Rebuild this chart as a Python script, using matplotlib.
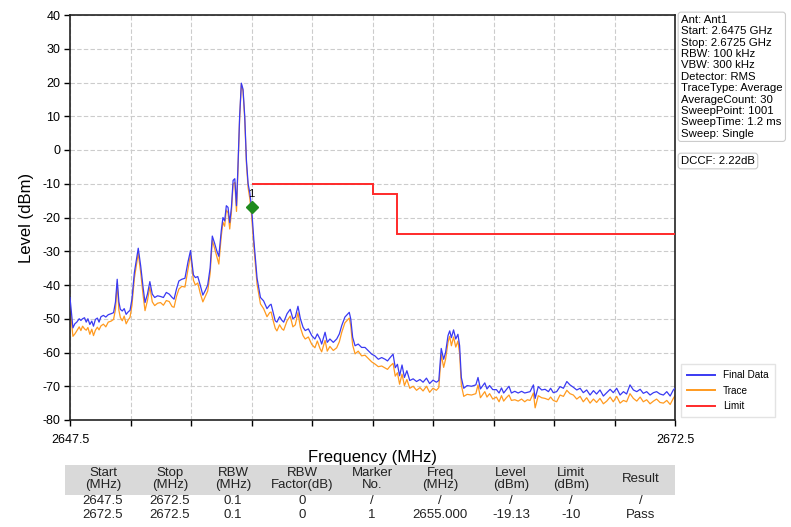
import matplotlib
matplotlib.use("Agg")
import matplotlib.pyplot as plt
from matplotlib.patches import Rectangle

plt.rcParams['font.family'] = ['Liberation Sans', 'DejaVu Sans']
plt.rcParams['axes.unicode_minus'] = False

# ---- data ----
freq_mhz = [
    2647.50, 2647.55, 2647.62, 2647.70, 2647.78, 2647.88, 2647.95, 2648.02, 2648.10, 2648.17,
    2648.24, 2648.32, 2648.40, 2648.47, 2648.55, 2648.63, 2648.70, 2648.78, 2648.88, 2648.98,
    2649.08, 2649.20, 2649.30, 2649.38, 2649.45, 2649.52, 2649.58, 2649.66, 2649.74, 2649.82,
    2649.90, 2649.98, 2650.06, 2650.16, 2650.32, 2650.42, 2650.52, 2650.60, 2650.70, 2650.80,
    2650.90, 2651.00, 2651.12, 2651.24, 2651.36, 2651.48, 2651.60, 2651.72, 2651.80, 2651.90,
    2652.00, 2652.12, 2652.25, 2652.38, 2652.48, 2652.60, 2652.68, 2652.78, 2652.88, 2652.99,
    2653.10, 2653.19, 2653.29, 2653.38, 2653.47, 2653.57, 2653.65, 2653.75, 2653.82, 2653.89,
    2653.96, 2654.03, 2654.10, 2654.17, 2654.24, 2654.31, 2654.38, 2654.44, 2654.51, 2654.58,
    2654.65, 2654.72, 2654.79, 2654.86, 2654.93, 2655.00, 2655.10, 2655.23, 2655.37, 2655.50,
    2655.64, 2655.75, 2655.81, 2655.89, 2655.98, 2656.05, 2656.16, 2656.26, 2656.33, 2656.47,
    2656.60, 2656.71, 2656.81, 2656.92, 2657.02, 2657.13, 2657.22, 2657.35, 2657.49, 2657.62,
    2657.72, 2657.83, 2657.90, 2658.04, 2658.13, 2658.24, 2658.38, 2658.52, 2658.63, 2658.73,
    2658.86, 2659.04, 2659.10, 2659.18, 2659.28, 2659.41, 2659.55, 2659.69, 2659.83, 2659.97,
    2660.10, 2660.24, 2660.38, 2660.52, 2660.62, 2660.73, 2660.85, 2660.94, 2661.03, 2661.12,
    2661.22, 2661.32, 2661.42, 2661.54, 2661.68, 2661.82, 2661.96, 2662.09, 2662.23, 2662.36,
    2662.50, 2662.64, 2662.74, 2662.84, 2662.94, 2663.02, 2663.12, 2663.19, 2663.26, 2663.35,
    2663.44, 2663.53, 2663.60, 2663.67, 2663.77, 2663.91, 2664.09, 2664.27, 2664.36, 2664.46,
    2664.64, 2664.73, 2664.84, 2664.97, 2665.12, 2665.23, 2665.33, 2665.42, 2665.53, 2665.64,
    2665.74, 2665.88, 2666.02, 2666.16, 2666.29, 2666.40, 2666.51, 2666.65, 2666.72, 2666.85,
    2666.99, 2667.13, 2667.27, 2667.36, 2667.47, 2667.61, 2667.75, 2667.89, 2668.03, 2668.16,
    2668.30, 2668.44, 2668.58, 2668.71, 2668.85, 2668.99, 2669.13, 2669.26, 2669.40, 2669.54,
    2669.68, 2669.82, 2669.95, 2670.09, 2670.23, 2670.37, 2670.50, 2670.64, 2670.78, 2670.92,
    2671.06, 2671.19, 2671.33, 2671.47, 2671.61, 2671.74, 2671.88, 2672.02, 2672.16, 2672.30,
    2672.43, 2672.50,
]

final_data_dbm = [
    -43.7, -47.5, -52.7, -51.5, -51.0, -50.0, -50.5, -50.0, -49.7, -51.0,
    -50.0, -51.7, -50.7, -52.2, -50.2, -49.8, -51.0, -49.4, -49.0, -49.5,
    -48.8, -48.5, -48.2, -45.0, -38.3, -45.0, -47.2, -47.7, -47.0, -48.7,
    -48.0, -47.5, -44.2, -36.3, -29.1, -34.3, -40.7, -45.2, -42.7, -39.0,
    -42.7, -43.7, -43.2, -43.4, -43.7, -42.2, -42.7, -43.7, -44.2, -41.2,
    -38.8, -38.3, -38.0, -33.0, -29.8, -37.0, -37.8, -37.5, -40.0, -43.0,
    -41.5, -40.0, -35.0, -25.5, -27.5, -30.0, -31.5, -24.0, -20.0, -21.0,
    -16.5, -17.0, -21.5, -17.0, -9.0, -8.5, -16.5, -5.0, 10.0, 19.8,
    18.0, 10.0, -3.0, -10.0, -12.7, -16.8, -27.0, -38.0, -43.7, -44.7,
    -47.0, -46.0, -45.7, -48.0, -50.6, -51.0, -49.4, -50.5, -51.0, -48.5,
    -47.2, -50.0, -49.5, -46.3, -50.0, -52.5, -53.5, -53.0, -55.0, -56.0,
    -54.5, -56.0, -57.5, -54.0, -57.0, -56.0, -57.0, -56.0, -54.5, -52.0,
    -49.5, -48.1, -50.0, -55.5, -58.0, -57.5, -58.5, -58.5, -59.5, -60.5,
    -61.0, -62.0, -61.5, -62.0, -62.5, -61.5, -60.5, -64.5, -63.5, -66.9,
    -63.7, -67.4, -65.4, -68.3, -67.8, -68.6, -68.0, -68.8, -67.6, -69.2,
    -68.2, -68.8, -68.3, -58.8, -62.0, -60.0, -55.0, -53.6, -55.6, -53.3,
    -56.0, -54.6, -58.0, -67.4, -70.6, -69.8, -70.0, -69.6, -67.4, -70.8,
    -69.0, -70.8, -69.8, -71.0, -71.0, -72.0, -70.5, -72.0, -71.0, -70.0,
    -72.0, -71.5, -72.0, -71.5, -72.0, -71.8, -71.6, -69.6, -73.6, -70.1,
    -71.1, -70.9, -71.6, -70.6, -71.9, -71.6, -70.1, -70.6, -68.6, -69.6,
    -70.3, -71.1, -70.6, -71.9, -71.1, -72.6, -71.3, -72.3, -71.1, -72.9,
    -71.9, -70.9, -71.9, -70.6, -72.6, -71.6, -72.3, -69.6, -71.1, -71.6,
    -70.9, -72.1, -71.6, -72.6, -71.9, -71.6, -72.3, -72.6, -71.6, -72.9,
    -71.1, -70.6,
]

trace_dbm = [
    -45.5, -50.0, -55.2, -54.5, -53.6, -52.4, -53.5, -52.2, -53.0, -53.4,
    -52.6, -54.6, -53.1, -55.0, -53.4, -52.5, -53.3, -52.1, -51.6, -52.4,
    -51.0, -50.7, -50.2, -47.2, -39.6, -47.5, -49.6, -50.6, -49.2, -51.5,
    -50.4, -49.6, -46.0, -38.0, -30.6, -36.2, -43.0, -47.6, -44.6, -40.6,
    -45.0, -46.1, -45.4, -45.2, -46.0, -44.6, -44.9, -46.4, -46.6, -43.4,
    -41.2, -40.4, -40.6, -35.2, -31.0, -38.6, -40.0, -39.4, -42.4, -45.0,
    -43.2, -41.8, -36.6, -26.8, -29.0, -31.6, -33.8, -25.6, -21.4, -22.6,
    -17.8, -18.6, -23.4, -18.4, -10.2, -9.6, -18.2, -6.0, 9.4, 19.4,
    17.5, 9.2, -4.0, -11.2, -14.4, -19.1, -28.8, -39.8, -45.6, -47.0,
    -49.4, -48.2, -48.0, -50.4, -52.8, -53.6, -51.8, -53.0, -53.4, -50.6,
    -49.2, -52.4, -51.8, -48.2, -52.6, -55.0, -56.0, -55.4, -57.6, -58.6,
    -56.6, -58.8, -59.8, -56.4, -59.6, -58.2, -59.4, -58.6, -56.8, -54.0,
    -51.2, -49.8, -52.0, -57.8, -60.4, -59.6, -61.0, -60.8, -61.8, -62.8,
    -63.4, -64.2, -64.0, -64.6, -65.0, -64.0, -63.2, -67.0, -66.0, -69.4,
    -66.4, -69.8, -68.0, -70.6, -70.0, -71.2, -70.4, -71.4, -70.0, -71.8,
    -70.6, -71.2, -70.4, -60.6, -64.4, -62.0, -57.0, -55.2, -58.0, -55.4,
    -58.4, -56.6, -60.4, -69.6, -73.0, -72.4, -72.6, -72.2, -69.6, -73.4,
    -71.6, -73.2, -72.2, -73.8, -73.2, -74.6, -72.8, -74.4, -73.4, -72.6,
    -74.2, -74.0, -74.4, -73.8, -74.6, -74.0, -74.2, -72.0, -76.4, -72.8,
    -73.4, -73.6, -74.0, -73.2, -74.2, -74.6, -72.6, -73.0, -71.2, -72.2,
    -72.6, -73.8, -73.0, -74.6, -73.4, -75.0, -73.8, -74.8, -73.6, -75.2,
    -74.4, -73.2, -74.6, -73.0, -75.0, -74.2, -74.6, -72.2, -73.6, -74.4,
    -73.2, -74.6, -74.0, -75.2, -74.4, -73.8, -74.8, -75.0, -74.2, -75.4,
    -73.6, -72.8,
]

limit_edges_mhz = [2655.0, 2660.0, 2661.0, 2672.5]
limit_levels_dbm = [-10, -13, -25]

marker_freq_mhz = 2655.0
marker_level_dbm = -16.8
marker_label = "1"

y_ticks = [40, 30, 20, 10, 0, -10, -20, -30, -40, -50, -60, -70, -80]
x_start, x_stop = 2647.5, 2672.5

info_lines = [
    "Ant: Ant1", "Start: 2.6475 GHz", "Stop: 2.6725 GHz", "RBW: 100 kHz",
    "VBW: 300 kHz", "Detector: RMS", "TraceType: Average", "AverageCount: 30",
    "SweepPoint: 1001", "SweepTime: 1.2 ms", "Sweep: Single",
]
dccf_text = "DCCF: 2.22dB"

table_headers = ["Start\n(MHz)", "Stop\n(MHz)", "RBW\n(MHz)", "RBW\nFactor(dB)", "Marker\nNo.",
                 "Freq\n(MHz)", "Level\n(dBm)", "Limit\n(dBm)", "Result"]
table_rows = [
    ["2647.5", "2672.5", "0.1", "0", "/", "/", "/", "/", "/"],
    ["2672.5", "2672.5", "0.1", "0", "1", "2655.000", "-19.13", "-10", "Pass"],
]

# ---- figure ----
W, H = 791, 527
fig = plt.figure(figsize=(W / 100, H / 100), dpi=100)
ax = fig.add_axes([70 / W, 1 - 420 / H, 605 / W, 405 / H])

ax.plot(freq_mhz, trace_dbm, color='#ff9a1f', lw=0.9, label='Trace', zorder=2)
ax.plot(freq_mhz, final_data_dbm, color='#3a3af2', lw=0.9, label='Final Data', zorder=3)
ax.stairs(limit_levels_dbm, limit_edges_mhz, baseline=None, color='#ff2a2a', lw=1.4,
          label='Limit', zorder=4)
ax.plot([marker_freq_mhz], [marker_level_dbm], marker='D', color='#1e8a1e', ms=6,
        ls='none', zorder=6)
ax.text(marker_freq_mhz, marker_level_dbm + 2.2, marker_label, ha='center', va='bottom',
        fontsize=8, color='black', zorder=6)

ax.set_xlim(x_start, x_stop)
ax.set_ylim(-80, 40)
ax.set_yticks(y_ticks)
ax.set_xticks([x_start + 2.5 * i for i in range(11)])
ax.set_xticklabels(["2647.5"] + [""] * 9 + ["2672.5"])
ax.tick_params(labelsize=9, length=4, width=1, direction='out', pad=3)
ax.tick_params(axis='x', pad=6)
ax.grid(True, color='#cccccc', ls=(0, (4, 2)), lw=0.8)
for s in ax.spines.values():
    s.set_linewidth(1.2)
    s.set_color('#222222')

ax.set_xlabel("Frequency (MHz)", fontsize=12, labelpad=3)
ax.set_ylabel("Level (dBm)", fontsize=12, labelpad=6)

# Legend (ordered)
h, l = ax.get_legend_handles_labels()
order = [l.index('Final Data'), l.index('Trace'), l.index('Limit')]
leg = fig.legend([h[i] for i in order], [l[i] for i in order], loc='lower left',
                 bbox_to_anchor=(676 / W, 1 - 422 / H), fontsize=7.2, frameon=True,
                 fancybox=False, edgecolor='#dddddd', handlelength=2.8, borderpad=0.6,
                 labelspacing=0.55)
for line in leg.get_lines():
    line.set_linewidth(1.4)

# Info box
fig.text(681 / W, 1 - 15 / H, "\n".join(info_lines), ha='left', va='top', fontsize=8.2,
         linespacing=1.17,
         bbox=dict(boxstyle='round,pad=0.25', fc='white', ec='#cccccc', lw=0.8))
fig.text(681 / W, 1 - 161 / H, dccf_text, ha='left', va='center', fontsize=8.2,
         bbox=dict(boxstyle='round,pad=0.25', fc='white', ec='#cccccc', lw=0.8))

# Table
tfam = ['Liberation Sans Narrow', 'Liberation Sans', 'DejaVu Sans']
col_x = [103, 170, 233, 302, 372, 440, 511, 571, 641]
fig.patches.append(Rectangle((65 / W, 1 - 495 / H), 610 / W, 30 / H,
                             transform=fig.transFigure, fc='#d9d9d9', ec='none', zorder=-1))
for cx, hdr in zip(col_x, table_headers):
    fig.text(cx / W, 1 - 479 / H, hdr, ha='center', va='center', fontsize=9.5,
             linespacing=0.95, color='#222222', family=tfam)
for ri, row in enumerate(table_rows):
    yy = 501 + ri * 14
    for cx, val in zip(col_x, row):
        fig.text(cx / W, 1 - yy / H, val, ha='center', va='center', fontsize=9.5,
                 color='#222222', family=tfam)

fig.savefig("out.png", dpi=100)
